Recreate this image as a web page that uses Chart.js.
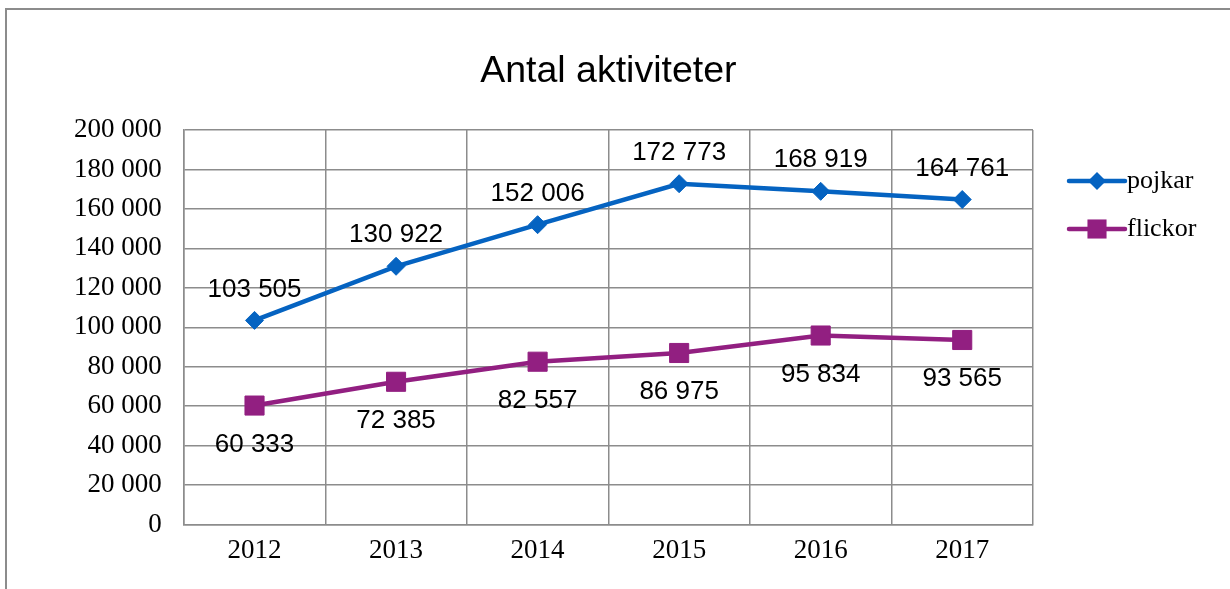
<!DOCTYPE html>
<html>
<head>
<meta charset="utf-8">
<script src="https://cdn.jsdelivr.net/npm/chart.js@4"></script>
<style>
  body { margin: 0; background: #fff; }
  #wrap { position: relative; width: 1230px; height: 589px; }
  #frame { position: absolute; left: 5px; top: 8px; width: 1300px; height: 700px; border: 2px solid #8c8c8c; box-sizing: border-box; }
  canvas { position: absolute; left: 0; top: 0; }
</style>
</head>
<body>
<div id="wrap">
  <div id="frame"></div>
  <canvas id="model01" width="1230" height="589"></canvas>
</div>
<script>
const years = ['2012', '2013', '2014', '2015', '2016', '2017'];
const pojkar = [103505, 130922, 152006, 172773, 168919, 164761];
const flickor = [60333, 72385, 82557, 86975, 95834, 93565];
const yTicks = [0, 20000, 40000, 60000, 80000, 100000, 120000, 140000, 160000, 180000, 200000];
const titel = 'Antal aktiviteter';

const blue = '#0563C1';
const purple = '#921F81';

// tal med mellanslag som tusentalsavgränsare
const fmt = v => String(v).replace(/\B(?=(\d{3})+(?!\d))/g, ' ');

const ctx1 = document.getElementById('model01');

// rubrik centrerad över ritytan
const titlePlugin = {
  id: 'plotTitle',
  afterDraw(chart) {
    const c = chart.ctx;
    const a = chart.chartArea;
    c.save();
    c.font = '37.5px "Liberation Sans", Arial, sans-serif';
    c.fillStyle = '#000';
    c.textAlign = 'center';
    c.textBaseline = 'middle';
    c.fillText(titel, (a.left + a.right) / 2, a.top - 58);
    c.restore();
  }
};

// etiketter vid punkterna
const labelPlugin = {
  id: 'pointLabels',
  afterDatasetsDraw(chart) {
    const c = chart.ctx;
    c.save();
    c.font = '26px "Liberation Sans", Arial, sans-serif';
    c.fillStyle = '#000';
    c.textAlign = 'center';
    c.textBaseline = 'middle';
    chart.data.datasets.forEach((ds, i) => {
      const meta = chart.getDatasetMeta(i);
      meta.data.forEach((pt, j) => {
        const off = i === 0 ? -31 : 39;
        c.fillText(fmt(ds.data[j]), pt.x, pt.y + off);
      });
    });
    c.restore();
  }
};

// legend med linje + markör
const legendPlugin = {
  id: 'lineLegend',
  afterDraw(chart) {
    const c = chart.ctx;
    const a = chart.chartArea;
    c.save();
    chart.data.datasets.forEach((ds, i) => {
      const y = a.top + 51 + i * 48;
      const x0 = a.right + 36;
      const x1 = x0 + 56;
      c.strokeStyle = ds.borderColor;
      c.lineWidth = 4.5;
      c.lineCap = 'round';
      c.beginPath();
      c.moveTo(x0, y);
      c.lineTo(x1, y);
      c.stroke();
      c.fillStyle = ds.borderColor;
      const mx = (x0 + x1) / 2;
      c.beginPath();
      if (ds.pointStyle === 'rectRot') {
        const r = ds.pointRadius;
        c.moveTo(mx - r, y); c.lineTo(mx, y - r); c.lineTo(mx + r, y); c.lineTo(mx, y + r);
        c.closePath();
      } else {
        const s = ds.pointRadius * Math.SQRT1_2;
        c.rect(mx - s, y - s, 2 * s, 2 * s);
      }
      c.fill();
      c.fillStyle = '#000';
      c.font = '26px "Liberation Serif", "Times New Roman", serif';
      c.textAlign = 'left';
      c.textBaseline = 'middle';
      c.fillText(ds.label, x1 + 2, y);
    });
    c.restore();
  }
};

const data = {
  labels: years,
  datasets: [
    {
      label: 'pojkar',
      data: pojkar,
      borderColor: blue,
      backgroundColor: blue,
      borderWidth: 4.5,
      pointStyle: 'rectRot',
      pointRadius: 9,
      pointBorderWidth: 1,
      tension: 0
    },
    {
      label: 'flickor',
      data: flickor,
      borderColor: purple,
      backgroundColor: purple,
      borderWidth: 4.5,
      pointStyle: 'rect',
      pointRadius: 13.5,
      pointBorderWidth: 1,
      tension: 0
    }
  ]
};

const chart = new Chart(ctx1, {
  type: 'line',
  data: data,
  plugins: [titlePlugin, labelPlugin, legendPlugin],
  options: {
    responsive: false,
    animation: false,
    devicePixelRatio: 1,
    layout: {
      padding: { left: 52, right: 197, top: 130, bottom: 12 }
    },
    plugins: {
      legend: { display: false },
      tooltip: { enabled: false },
      title: { display: false }
    },
    scales: {
      x: {
        offset: true,
        grid: { offset: true, color: '#8c8c8c', lineWidth: 1.5, drawTicks: false },
        border: { color: '#8c8c8c', width: 1.5 },
        ticks: {
          color: '#000',
          padding: 10,
          font: { family: '"Liberation Serif", "Times New Roman", serif', size: 27 }
        }
      },
      y: {
        min: 0,
        max: 200000,
        afterBuildTicks: axis => { axis.ticks = yTicks.map(v => ({ value: v })); },
        grid: { color: '#8c8c8c', lineWidth: 1.5, drawTicks: false },
        border: { color: '#8c8c8c', width: 1.5 },
        ticks: {
          color: '#000',
          padding: 22,
          callback: v => fmt(v),
          font: { family: '"Liberation Serif", "Times New Roman", serif', size: 27 }
        }
      }
    }
  }
});
</script>
</body>
</html>
